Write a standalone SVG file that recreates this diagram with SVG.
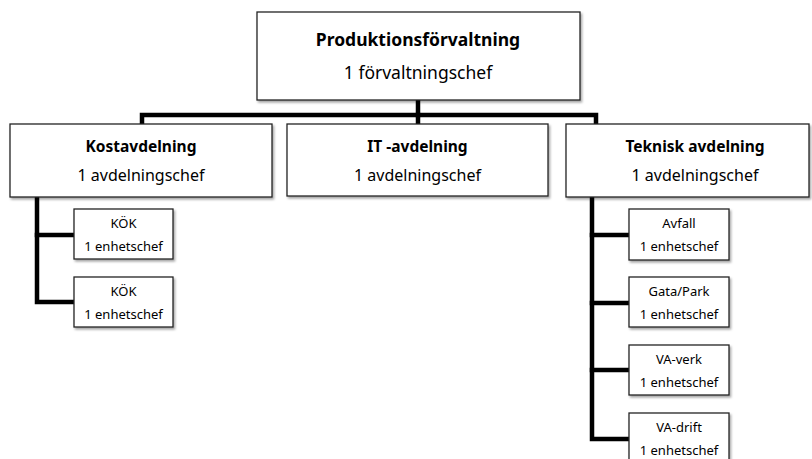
<svg xmlns="http://www.w3.org/2000/svg" width="812" height="459" viewBox="0 0 812 459">
<defs>
<filter id="sh" x="-10%" y="-10%" width="130%" height="140%">
<feDropShadow dx="1.5" dy="2" stdDeviation="1.2" flood-color="#000" flood-opacity="0.35"/>
</filter>
<style>
.box{fill:#fff;stroke:#222;stroke-width:1.3;filter:url(#sh)}
.con{fill:none;stroke:#000;stroke-width:4.5;stroke-linejoin:miter;stroke-linecap:square}
text{font-family:"Noto Sans","Open Sans","Liberation Sans",sans-serif;fill:#000;text-anchor:middle}
.b{font-weight:bold;font-size:15.5px}
.r{font-size:16px}
.s{font-size:13px}
.t1{font-weight:bold;font-size:17.5px}
.t2{font-size:17.5px}
</style>
</defs>
<rect width="812" height="459" fill="#fff"/>
<g id="connectors">
<path class="con" d="M418 100 V115"/>
<path class="con" d="M142 124 V115 H596 V124"/>
<path class="con" d="M418 115 V124"/>
<path class="con" d="M37 197 V302 H74"/>
<path class="con" d="M37 235 H74"/>
<path class="con" d="M592 197 V439 H629"/>
<path class="con" d="M592 235 H629"/>
<path class="con" d="M592 303 H629"/>
<path class="con" d="M592 370 H629"/>
</g>
<g id="produktion">
<rect class="box" x="257" y="12" width="323" height="88"/>
<text class="t1" x="418" y="46">Produktionsförvaltning</text>
<text class="t2" x="418" y="79">1 förvaltningschef</text>
</g>
<g id="kost">
<rect class="box" x="10" y="124" width="262" height="73"/>
<text class="b" x="141" y="152">Kostavdelning</text>
<text class="r" x="141" y="181">1 avdelningschef</text>
</g>
<g id="it">
<rect class="box" x="287" y="124" width="261" height="72"/>
<text class="b" x="417.5" y="152">IT -avdelning</text>
<text class="r" x="417.5" y="181">1 avdelningschef</text>
</g>
<g id="teknisk">
<rect class="box" x="566" y="124" width="243" height="73"/>
<text class="b" x="695" y="152">Teknisk avdelning</text>
<text class="r" x="695" y="181">1 avdelningschef</text>
</g>
<g id="kok1">
<rect class="box" x="74" y="209" width="99" height="50"/>
<text class="s" x="123.5" y="228">KÖK</text>
<text class="s" x="123.5" y="251">1 enhetschef</text>
</g>
<g id="kok2">
<rect class="box" x="74" y="277" width="99" height="50"/>
<text class="s" x="123.5" y="296">KÖK</text>
<text class="s" x="123.5" y="319">1 enhetschef</text>
</g>
<g id="avfall">
<rect class="box" x="629" y="209" width="100" height="51"/>
<text class="s" x="679" y="228">Avfall</text>
<text class="s" x="679" y="251">1 enhetschef</text>
</g>
<g id="gatapark">
<rect class="box" x="629" y="277" width="100" height="50"/>
<text class="s" x="679" y="296">Gata/Park</text>
<text class="s" x="679" y="319">1 enhetschef</text>
</g>
<g id="vaverk">
<rect class="box" x="629" y="345" width="100" height="50"/>
<text class="s" x="679" y="364">VA-verk</text>
<text class="s" x="679" y="387">1 enhetschef</text>
</g>
<g id="vadrift">
<rect class="box" x="629" y="413" width="100" height="50"/>
<text class="s" x="679" y="432">VA-drift</text>
<text class="s" x="679" y="455">1 enhetschef</text>
</g>
</svg>
